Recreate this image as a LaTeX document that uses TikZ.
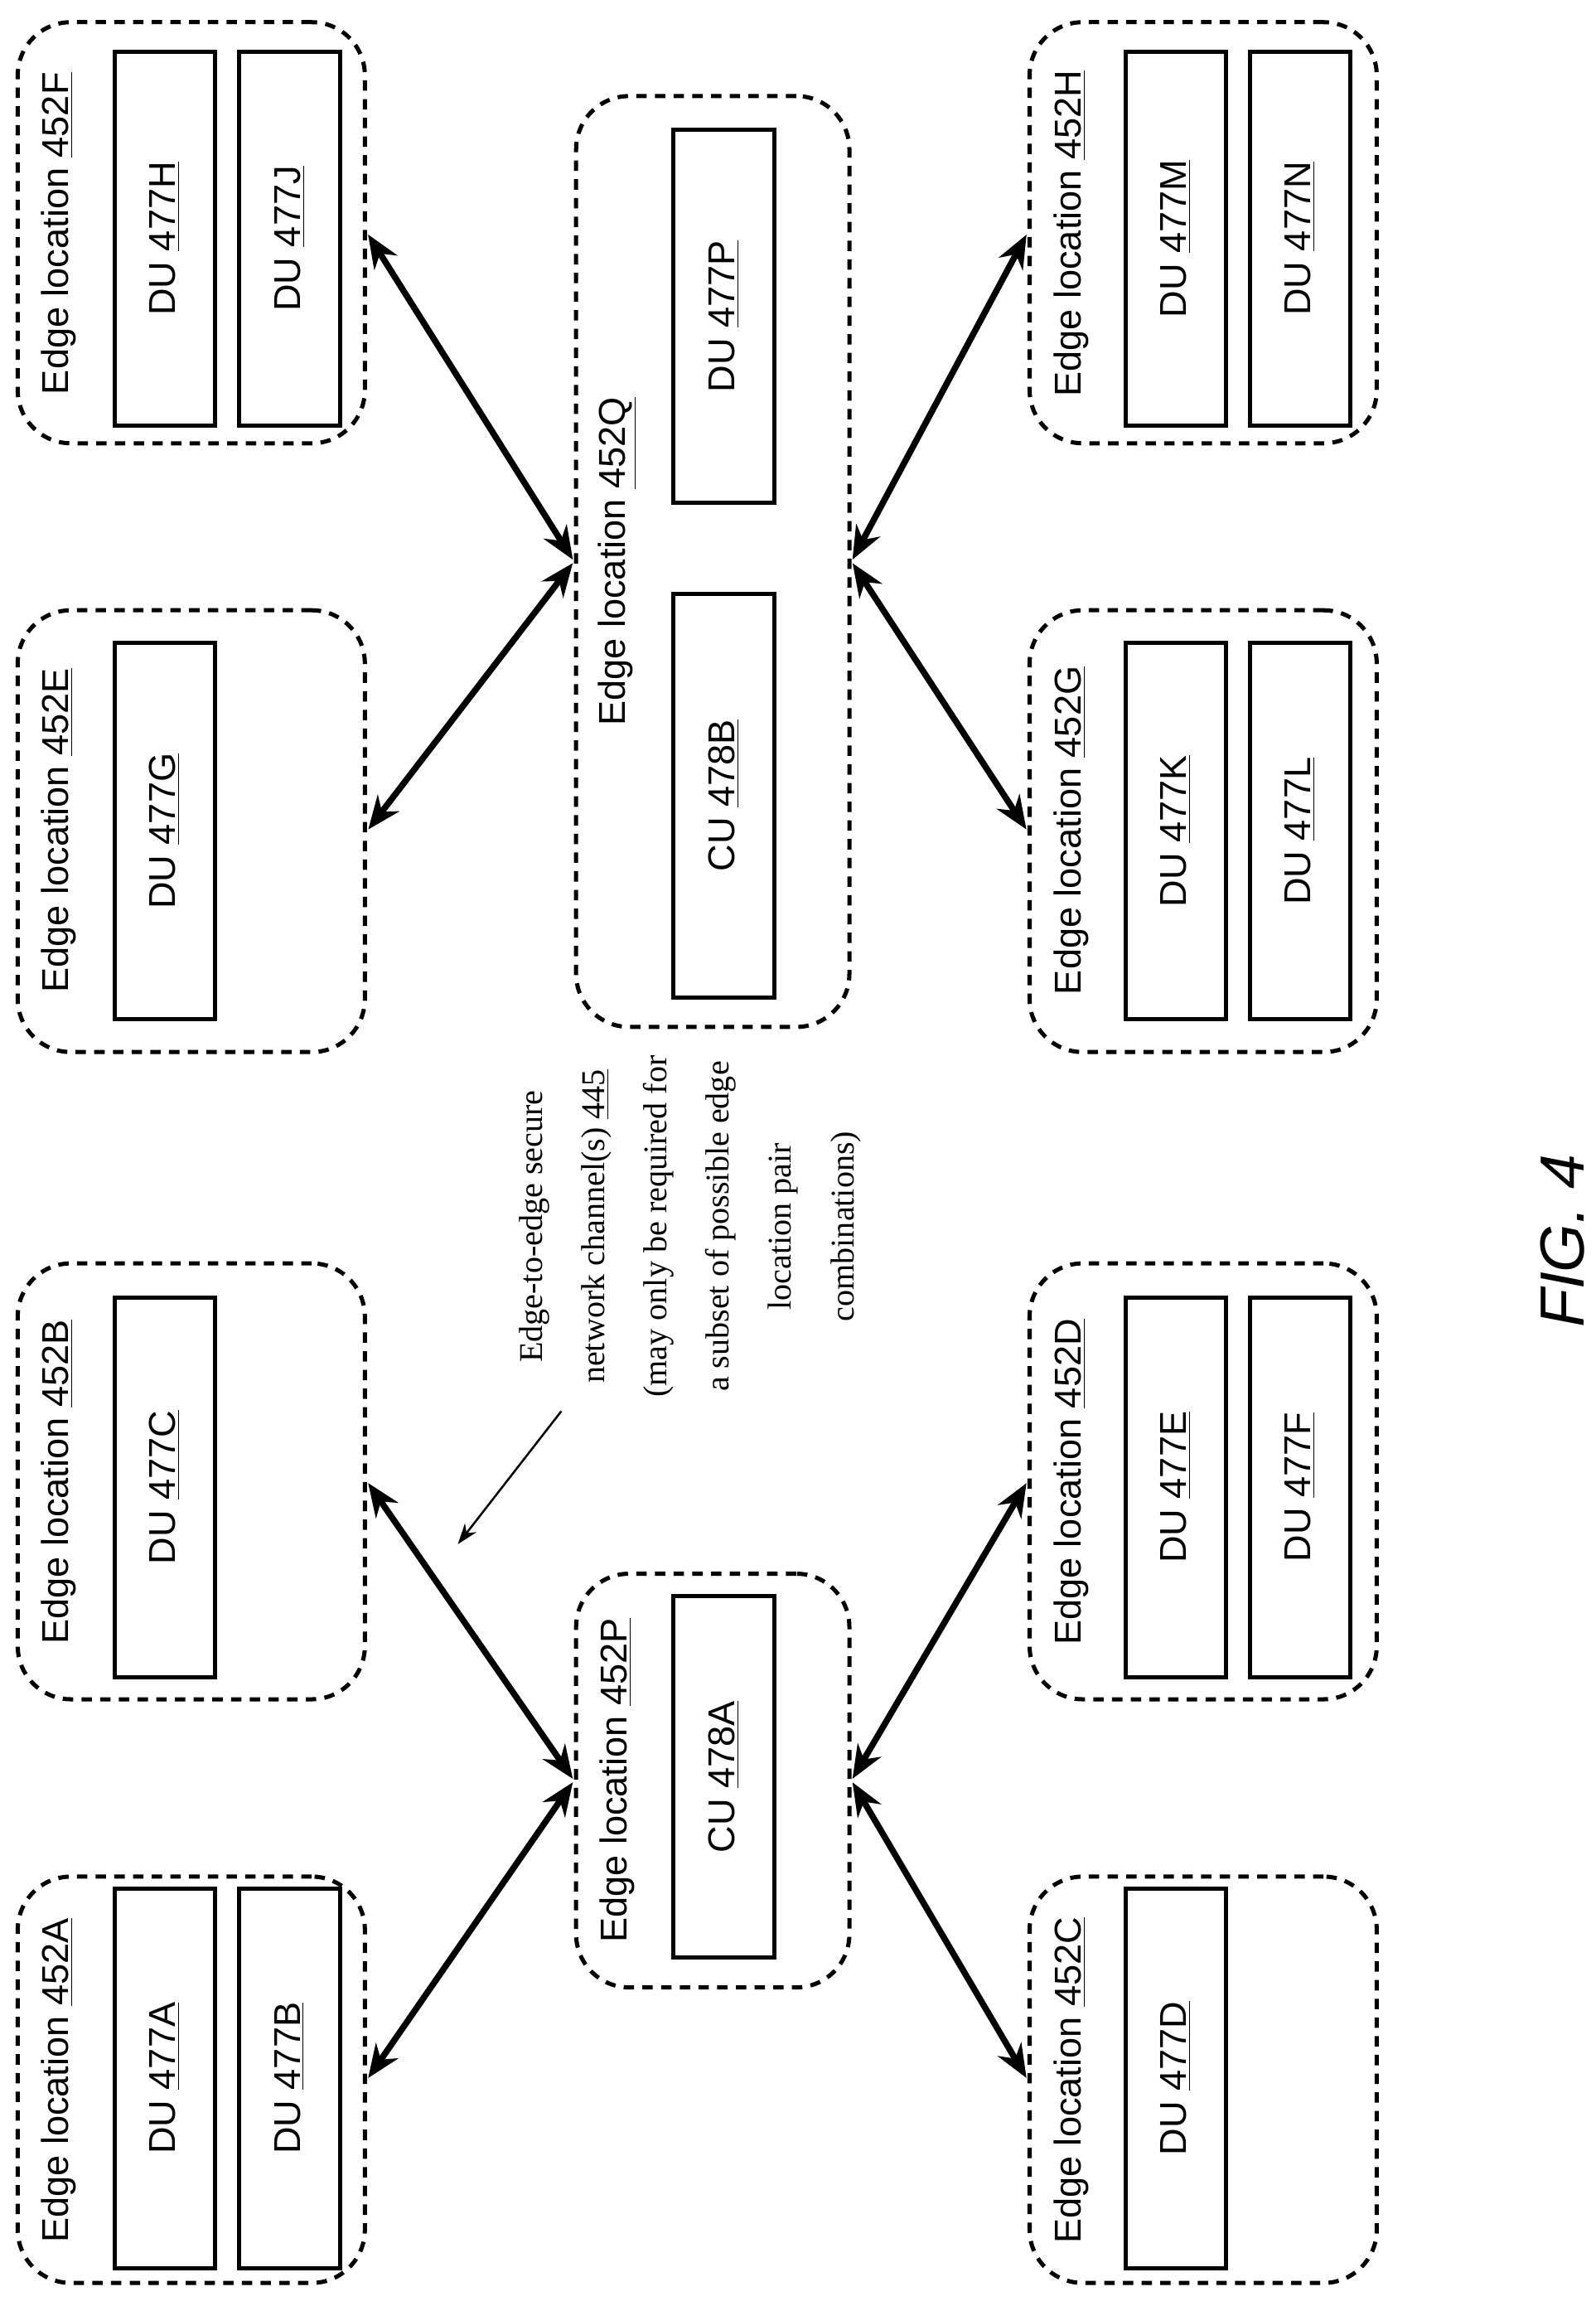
\documentclass[tikz,border=0pt]{standalone}
\usepackage{fontspec}
\setmainfont{Liberation Sans}
\newfontfamily\serifnote{Liberation Serif}
\usetikzlibrary{fit, arrows.meta}
\tikzset{
  loc/.style={draw, dashed, line width=2pt, rounded corners=0.9cm, inner sep=0pt, dash pattern=on 5pt off 4pt},
  unit/.style={draw, line width=2pt, rotate=90, inner sep=0pt, font=\fontsize{18}{20}\selectfont},
  lbl/.style={rotate=90, font=\fontsize{18}{20}\selectfont},
  link/.style={line width=3pt, {Stealth[length=16pt,width=13pt]}-{Stealth[length=16pt,width=13pt]}, shorten <=1pt, shorten >=1pt}
}
\newcommand{\du}[6]{\node[unit, minimum width=#3cm, minimum height=1.7cm] (#1) at (#2) {#4 \underline{#5#6}};}
\begin{document}
\begin{tikzpicture}[x=0.025cm, y=-0.025cm]
  \useasboundingbox (0,0) rectangle (1080,1564);
  % edge locations
  \node[loc, fit={(12,1270)(247,1545)}] (lA) {};
  \node[loc, fit={(12,855)(247,1150)}] (lB) {};
  \node[loc, fit={(697,1270)(932,1545)}] (lC) {};
  \node[loc, fit={(697,855)(932,1150)}] (lD) {};
  \node[loc, fit={(12,413)(247,712)}] (lE) {};
  \node[loc, fit={(12,15)(247,300)}] (lF) {};
  \node[loc, fit={(697,413)(932,712)}] (lG) {};
  \node[loc, fit={(697,15)(932,300)}] (lH) {};
  \node[loc, fit={(390,1065)(575,1345)}] (lP) {};
  \node[loc, fit={(390,65)(575,695)}] (lQ) {};
  % labels
  \node[lbl] (tA) at (40,1408) {Edge location \underline{452A}};
  \node[lbl] (tB) at (40,1003) {Edge location \underline{452B}};
  \node[lbl] (tC) at (725,1408) {Edge location \underline{452C}};
  \node[lbl] (tD) at (725,1003) {Edge location \underline{452D}};
  \node[lbl] (tE) at (40,562) {Edge location \underline{452E}};
  \node[lbl] (tF) at (40,158) {Edge location \underline{452F}};
  \node[lbl] (tG) at (725,562) {Edge location \underline{452G}};
  \node[lbl] (tH) at (725,158) {Edge location \underline{452H}};
  \node[lbl] (tP) at (418,1205) {Edge location \underline{452P}};
  \node[lbl] (tQ) at (418,380) {Edge location \underline{452Q}};
  % units
  \du{uA}{111.5,1406.5}{6.42}{DU}{477}{A}
  \du{uB}{196,1406.5}{6.42}{DU}{477}{B}
  \du{uC}{111.5,1006.5}{6.42}{DU}{477}{C}
  \du{uD}{796,1406.5}{6.42}{DU}{477}{D}
  \du{uE}{796,1006.5}{6.42}{DU}{477}{E}
  \du{uF}{880,1006.5}{6.42}{DU}{477}{F}
  \du{uG}{111.5,562.5}{6.37}{DU}{477}{G}
  \du{uH}{111.5,161.5}{6.32}{DU}{477}{H}
  \du{uJ}{196,161.5}{6.32}{DU}{477}{J}
  \du{uK}{796,562.5}{6.37}{DU}{477}{K}
  \du{uL}{880,562.5}{6.37}{DU}{477}{L}
  \du{uM}{796,161.5}{6.32}{DU}{477}{M}
  \du{uN}{880,161.5}{6.32}{DU}{477}{N}
  \du{cA}{490,1202.5}{6.12}{CU}{478}{A}
  \du{cB}{490,538.5}{6.82}{CU}{478}{B}
  \du{uP}{490,214}{6.3}{DU}{477}{P}
  % secure channels
  \draw[link] (lA.east) -- (lP.west);
  \draw[link] (lB.east) -- (lP.west);
  \draw[link] (lP.east) -- (lC.west);
  \draw[link] (lP.east) -- (lD.west);
  \draw[link] (lE.east) -- (lQ.west);
  \draw[link] (lF.east) -- (lQ.west);
  \draw[link] (lQ.east) -- (lG.west);
  \draw[link] (lQ.east) -- (lH.west);
  % note
  \node[rotate=90, align=center, font=\serifnote\fontsize{16}{30}\selectfont] (note) at (467,830)
    {Edge-to-edge secure\\network channel(s) \underline{445}\\(may only be required for\\a subset of possible edge\\location pair\\combinations)};
  \coordinate (noteEnd) at (310,1045);
  \draw[line width=1pt, -{Stealth[length=10pt,width=7pt]}] (380,955) -- (noteEnd);
  \node[rotate=90, font=\itshape\fontsize{30}{32}\selectfont] (fig) at (1058,840) {FIG. 4};
\end{tikzpicture}
\end{document}
